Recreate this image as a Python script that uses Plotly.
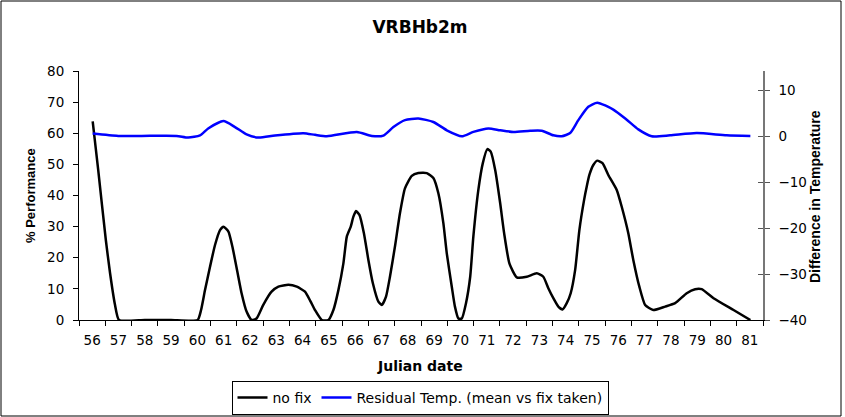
import plotly.graph_objects as go

# ---- data ----
julian_labels = list(range(56, 82))

nofix_day = [56.02, 56.23, 56.52, 56.68, 56.87, 57.02, 58.0, 59.0, 60.01, 60.14, 60.29, 60.48,
             60.67, 60.86, 60.99, 61.18, 61.33, 61.52, 61.68, 61.87, 62.06, 62.25, 62.5, 62.82,
             63.08, 63.46, 63.78, 64.09, 64.3, 64.47, 64.73, 64.98, 65.17, 65.36, 65.55, 65.68,
             65.83, 65.93, 66.03, 66.16, 66.33, 66.5, 66.67, 66.88, 67.01, 67.17, 67.32, 67.51,
             67.7, 67.89, 68.15, 68.4, 68.72, 68.97, 69.16, 69.35, 69.48, 69.67, 69.79, 69.92,
             70.05, 70.21, 70.37, 70.49, 70.68, 70.85, 71.02, 71.15, 71.32, 71.51, 71.66, 71.86,
             72.14, 72.52, 72.9, 73.15, 73.34, 73.53, 73.72, 73.88, 74.04, 74.19, 74.36, 74.52,
             74.7, 74.8, 74.9, 75.05, 75.2, 75.4, 75.62, 75.94, 76.13, 76.38, 76.57, 76.8,
             77.02, 77.33, 77.78, 78.16, 78.6, 78.92, 79.17, 79.62, 80.38, 81.02]
nofix_pct = [63.8, 48.2, 25.7, 15.1, 4.8, 0, 0, 0, 0, 3.2, 9.6, 17.1,
             24.1, 28.9, 30.0, 28.4, 23.6, 15.5, 8.6, 2.7, 0, 0.5, 4.8, 9.1,
             10.7, 11.3, 10.7, 9.1, 6.0, 3.2, 0, 0, 3.2, 9.6, 18.2, 26.8,
             30.0, 33.2, 35.0, 33.8, 27.9, 19.3, 11.8, 5.9, 4.8, 7.5, 13.9, 23.6,
             34.3, 42.3, 46.3, 47.2, 47.2, 45.6, 40.7, 31.1, 21.4, 10.7, 4.3, 0.5,
             0.5, 5.4, 13.9, 26.8, 41.8, 50.4, 54.9, 54.1, 48.2, 37.5, 27.9, 18.2,
             13.7, 13.9, 15.0, 13.9, 10.2, 7.0, 4.3, 3.4, 5.4, 8.6, 16.1, 28.9,
             38.6, 42.9, 46.6, 49.8, 51.2, 50.4, 46.6, 41.8, 36.4, 27.9, 19.3, 10.7,
             4.8, 3.2, 4.3, 5.4, 8.6, 9.9, 9.9, 7.0, 3.2, 0]

resid_day = [56.02, 56.99, 57.88, 59.21, 59.65, 60.1, 60.41, 60.99, 61.43, 61.87, 62.32, 62.95,
             64.03, 64.47, 64.92, 66.06, 66.63, 67.07, 67.45, 67.89, 68.4, 68.97, 69.48, 70.05,
             70.49, 71.06, 71.51, 72.01, 72.65, 73.09, 73.53, 73.85, 74.17, 74.48, 74.86, 75.2,
             75.81, 76.32, 76.76, 77.27, 77.97, 78.98, 80.12, 81.02]
resid_temp = [0.58, 0.07, 0.07, 0.07, -0.3, 0.2, 1.7, 3.3, 2.0, 0.4, -0.3, 0.15,
              0.65, 0.3, 0.0, 0.94, 0.07, 0.15, 2.0, 3.5, 3.85, 3.1, 1.3, 0.0,
              0.94, 1.7, 1.3, 0.94, 1.2, 1.2, 0.2, 0.0, 0.7, 3.5, 6.4, 7.3,
              5.8, 3.6, 1.5, 0.0, 0.2, 0.7, 0.2, 0.07]

left_ticks = list(range(0, 81, 10))
right_ticks = list(range(-40, 11, 10))

# ---- figure ----
H_FONT = "DejaVu Sans"
V_FONT = "Liberation Sans"

fig = go.Figure()
fig.add_trace(go.Scatter(x=nofix_day, y=nofix_pct, mode="lines", name="no fix",
                         line=dict(color="black", width=2.5, shape="spline", smoothing=0.5),
                         yaxis="y"))
fig.add_trace(go.Scatter(x=resid_day, y=resid_temp, mode="lines",
                         name="Residual Temp. (mean vs fix taken)",
                         line=dict(color="#0000FF", width=2.5, shape="spline", smoothing=0.6),
                         yaxis="y2"))
# empty trace so that the overlay axis with inside ticks is rendered
fig.add_trace(go.Scatter(x=[None], y=[None], yaxis="y3", showlegend=False, hoverinfo="skip"))

L, R, T, B = 79, 82, 71, 97
W, Hh = 845, 417
pw, ph = W - L - R, Hh - T - B


def px_x(px):
    return (px - L) / pw


def px_y(py):
    return (Hh - B - py) / ph


fig.update_layout(
    width=W, height=Hh,
    margin=dict(l=L, r=R, t=T, b=B, pad=0, autoexpand=False),
    paper_bgcolor="white", plot_bgcolor="white",
    font=dict(family=H_FONT, size=13, color="black"),
    title=dict(text="<b>VRBHb2m</b>", x=420 / W, xanchor="center", xref="container",
               y=1 - 27 / Hh, yanchor="middle", yref="container",
               font=dict(family=H_FONT, size=17, color="black")),
    xaxis=dict(range=[55.5, 81.5], tickmode="array", tickvals=julian_labels,
               ticktext=[str(v) for v in julian_labels], ticks="", automargin=False,
               showline=True, linecolor="black", linewidth=1, showgrid=False, zeroline=False,
               ticklabelstandoff=8, tickfont=dict(size=13.5),
               minor=dict(tickmode="array", tickvals=[v - 0.5 for v in julian_labels] + [81.5],
                          ticks="outside", ticklen=5, tickcolor="black", tickwidth=1,
                          showgrid=False)),
    yaxis=dict(range=[0, 80], tickmode="array", tickvals=left_ticks, ticks="outside",
               ticklen=5, tickcolor="black", showline=True, linecolor="black", linewidth=1,
               showgrid=False, zeroline=False, ticklabelstandoff=6, automargin=False,
               tickfont=dict(size=13.5)),
    yaxis2=dict(range=[-40, 14.2], tickmode="array", tickvals=right_ticks, ticks="outside",
                ticklen=5, tickcolor="#555555", overlaying="y", side="right", anchor="x",
                showline=True, linecolor="#777777", linewidth=1.5, showgrid=False,
                zeroline=False, ticklabelstandoff=6, automargin=False,
                tickfont=dict(size=13.5)),
    yaxis3=dict(range=[-40, 14.2], tickmode="array", tickvals=right_ticks, ticks="inside",
                ticklen=5, tickcolor="#555555", overlaying="y", side="right", anchor="x",
                showline=False, showgrid=False, zeroline=False, showticklabels=False,
                automargin=False),
    showlegend=True,
    legend=dict(orientation="h", x=px_x(420), y=px_y(398), xanchor="center", yanchor="middle",
                bordercolor="black", borderwidth=1, bgcolor="white",
                font=dict(family=H_FONT, size=14, color="black"),
                itemwidth=30, tracegroupgap=0),
    annotations=[
        dict(text="<b>Julian date</b>", xref="paper", yref="paper", x=px_x(420), y=px_y(366),
             xanchor="center", yanchor="middle", showarrow=False,
             font=dict(family=H_FONT, size=14, color="black")),
        dict(text="<b>% Performance</b>", xref="paper", yref="paper", x=px_x(30), y=px_y(196),
             xanchor="center", yanchor="middle", showarrow=False, textangle=-90,
             font=dict(family=V_FONT, size=13, color="black")),
        dict(text="<b>Difference in Temperature</b>", xref="paper", yref="paper", x=px_x(815),
             y=px_y(197), xanchor="center", yanchor="middle", showarrow=False, textangle=-90,
             font=dict(family=V_FONT, size=14, color="black")),
    ],
    shapes=[dict(type="rect", xref="paper", yref="paper",
                 x0=px_x(1), x1=px_x(841), y0=px_y(416), y1=px_y(1),
                 line=dict(color="black", width=1), fillcolor="rgba(0,0,0,0)", layer="below")],
)

fig.write_html("out.html",
               config={"displayModeBar": False},
               post_script="document.body.style.margin='0';"
                           "document.body.style.overflow='hidden';")
